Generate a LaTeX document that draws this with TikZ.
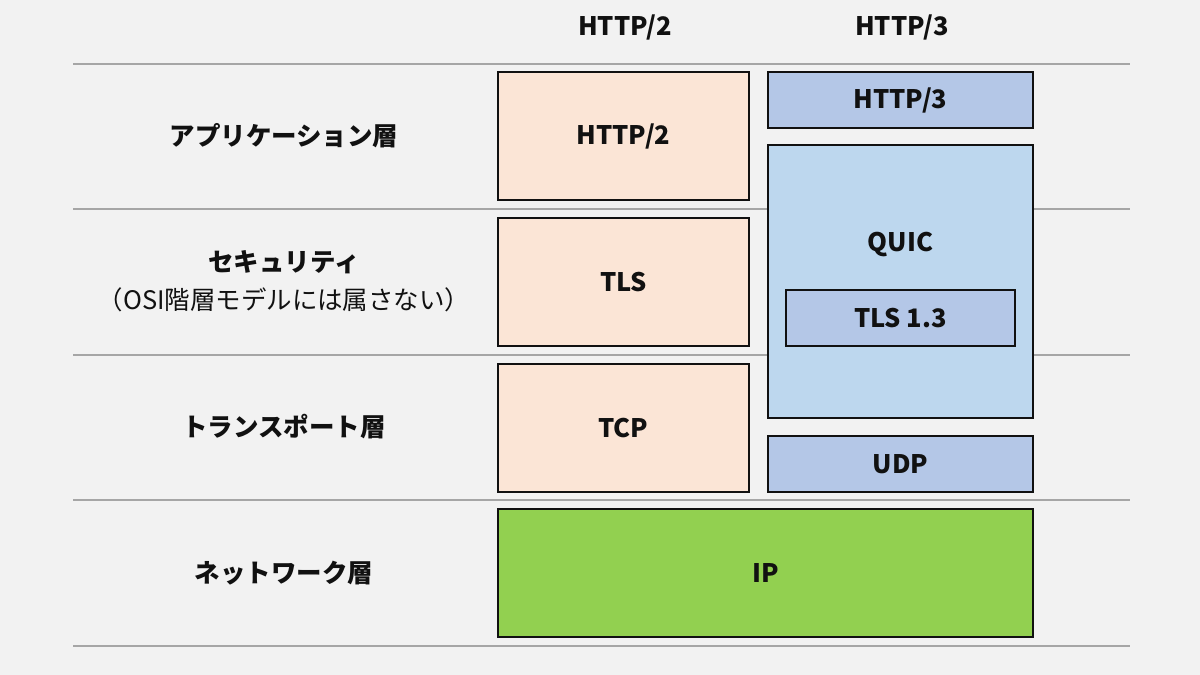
\documentclass[tikz,border=0pt]{standalone}
\usepackage{fontspec}
\setmainfont{Noto Sans CJK JP}
\usepackage{xcolor}
\usepackage{tikz}
\usetikzlibrary{positioning}
\definecolor{lyBack}{HTML}{F2F2F2}
\definecolor{lyRule}{HTML}{A6A6A6}
\definecolor{lyInk}{HTML}{111111}
\definecolor{lyPeach}{HTML}{FBE5D6}
\definecolor{lyBlue}{HTML}{B4C7E7}
\definecolor{lySky}{HTML}{BDD7EE}
\definecolor{lyGreen}{HTML}{92D050}
\tikzset{
  ly diagram/.style={x=0.02cm, y=-0.02cm, font=\fontsize{14.5}{17}\selectfont\bfseries,
    text=lyInk, line join=miter},
  ly rule/.style={draw=lyRule, line width=1pt},
  ly box/.style={draw=lyInk, line width=1.1pt, inner sep=0pt, align=center},
  ly h2 box/.style={ly box, fill=lyPeach, minimum width=5.02cm, minimum height=2.56cm},
  ly h3 box/.style={ly box, fill=lyBlue, minimum width=5.3cm, minimum height=1.12cm},
  ly quic box/.style={ly box, fill=lySky, minimum width=5.3cm, minimum height=5.46cm},
  ly tls box/.style={ly box, fill=lyBlue, minimum width=4.58cm, minimum height=1.12cm},
  ly ip box/.style={ly box, fill=lyGreen, minimum width=10.7cm, minimum height=2.56cm},
  ly layer/.style={align=center},
  ly note/.style={font=\fontsize{14.5}{17}\selectfont\mdseries}
}
\begin{document}
\begin{tikzpicture}[ly diagram]
\fill[lyBack] (0,0) rectangle (1200,675);
\useasboundingbox (0,0) rectangle (1200,675);
\node (h2head) at (625,27) {HTTP/2};
\node (h3head) at (902,27) {HTTP/3};
\foreach \y in {64,209,355,500,646}
  \draw[ly rule] (73,\y) -- (1130,\y);
\node[ly layer] (app) at (284,136) {アプリケーション層};
\node[ly layer] (sec) at (284,262) {セキュリティ};
\node[ly note] (secnote) at (284,300) {（OSI階層モデルには属さない）};
\node[ly layer] (trans) at (284,427) {トランスポート層};
\node[ly layer] (net) at (284,573) {ネットワーク層};
\node[ly h2 box] (http2) at (623.5,136) {HTTP/2};
\node[ly h2 box] (tls) at (623.5,282) {TLS};
\node[ly h2 box] (tcp) at (623.5,428) {TCP};
\node[ly h3 box] (http3) at (900.5,100) {HTTP/3};
\node[ly quic box] (quic) at (900.5,281.5) {};
\node (quiclbl) at (900.5,245) {QUIC};
\node[ly tls box] (tls13) at (900.5,318) {TLS 1.3};
\node[ly h3 box] (udp) at (900.5,464) {UDP};
\node[ly ip box] (ip) at (765.5,573) {IP};
\end{tikzpicture}
\end{document}
